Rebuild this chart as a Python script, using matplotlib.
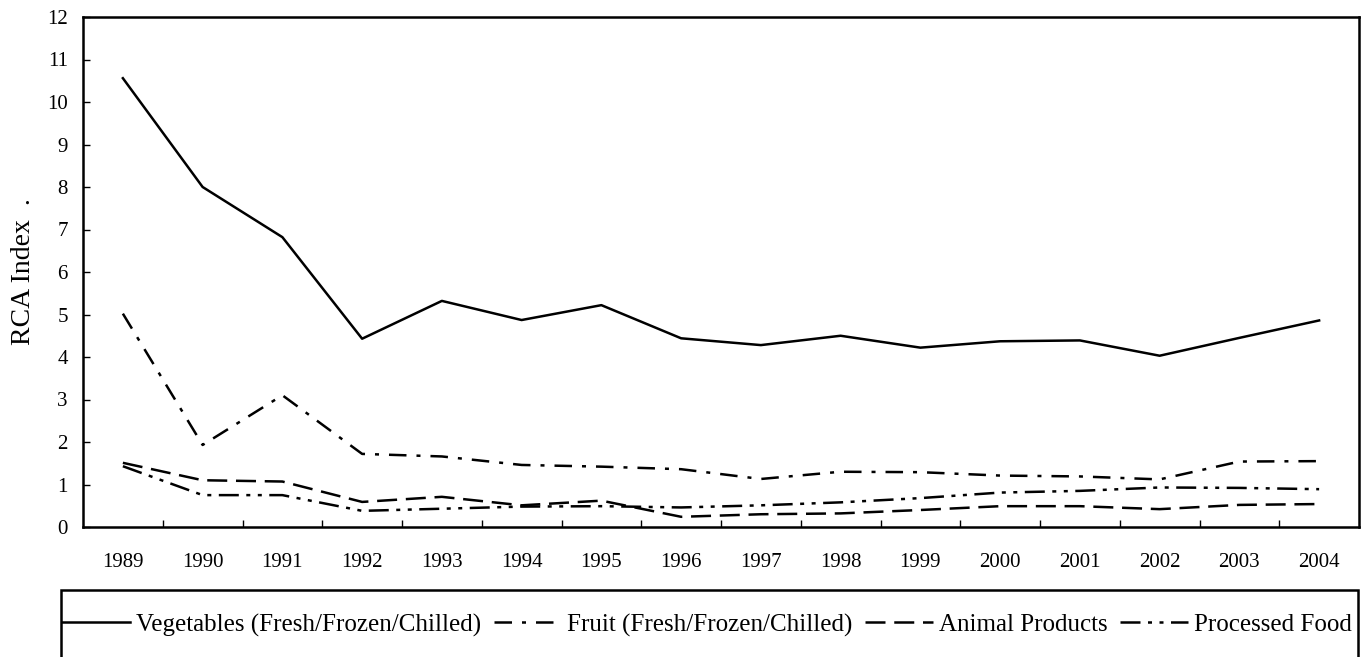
import matplotlib
matplotlib.use("Agg")
import matplotlib.pyplot as plt
from matplotlib.patches import Rectangle

years = ["1989", "1990", "1991", "1992", "1993", "1994", "1995", "1996",
         "1997", "1998", "1999", "2000", "2001", "2002", "2003", "2004"]
vegetables = [10.56, 8.00, 6.82, 4.43, 5.32, 4.87, 5.22, 4.44,
              4.28, 4.50, 4.22, 4.37, 4.39, 4.03, 4.45, 4.86]
fruit = [5.02, 1.93, 3.10, 1.72, 1.66, 1.46, 1.42, 1.36,
         1.13, 1.30, 1.29, 1.21, 1.19, 1.12, 1.54, 1.55]
animal = [1.51, 1.10, 1.07, 0.59, 0.71, 0.51, 0.62, 0.24,
          0.30, 0.32, 0.40, 0.49, 0.49, 0.42, 0.52, 0.54]
processed = [1.43, 0.75, 0.75, 0.38, 0.43, 0.48, 0.49, 0.46,
             0.51, 0.58, 0.68, 0.81, 0.85, 0.93, 0.92, 0.89]
labels = ["Vegetables (Fresh/Frozen/Chilled)", "Fruit (Fresh/Frozen/Chilled)",
          "Animal Products", "Processed Food"]

plt.rcParams['font.family'] = ['Liberation Serif', 'DejaVu Serif']

fig = plt.figure(figsize=(13.69, 6.57), dpi=100)
ax = fig.add_axes([83/1369, 1-527/657, (1359-83)/1369, (527-17)/657])

x = list(range(len(years)))
lw = 1.8
ax.plot(x, vegetables, color='black', lw=lw, label=labels[0])
ax.plot(x, fruit, color='black', lw=lw, dashes=(7, 4, 1.6, 4), label=labels[1])
ax.plot(x, animal, color='black', lw=lw, dashes=(8, 3.5), label=labels[2])
ax.plot(x, processed, color='black', lw=lw, dashes=(8, 3, 1.6, 3, 1.6, 3), label=labels[3])

ax.set_xlim(-0.5, len(years) - 0.5)
ax.set_ylim(0, 12)
ax.set_yticks(range(0, 13))
ax.set_xticks(x)
ax.set_xticklabels(years)
ax.set_xticks([i + 0.5 for i in x[:-1]], minor=True)
ax.tick_params(axis='x', which='major', length=0, pad=19, labelsize=15)
ax.tick_params(axis='x', which='minor', direction='in', length=5, width=1)
ax.tick_params(axis='y', direction='in', length=5, width=1, pad=11, labelsize=15)
for s in ax.spines.values():
    s.set_linewidth(1.8)
ax.set_ylabel("RCA Index  .", fontsize=20, labelpad=8)

# legend box (extends below figure edge as in the reference)
fig.patches.append(Rectangle((61/1369, -0.05), (1358-61)/1369, 0.05 + (657-590)/657,
                             transform=fig.transFigure, fill=False,
                             edgecolor='black', linewidth=1.8))
fig.legend(loc='center', bbox_to_anchor=(707/1369, 1-625/657), ncol=4,
           frameon=False, fontsize=18, handlelength=2.7, handletextpad=0.25,
           columnspacing=0.5, borderpad=0.2)

fig.savefig("out.png", dpi=100)
